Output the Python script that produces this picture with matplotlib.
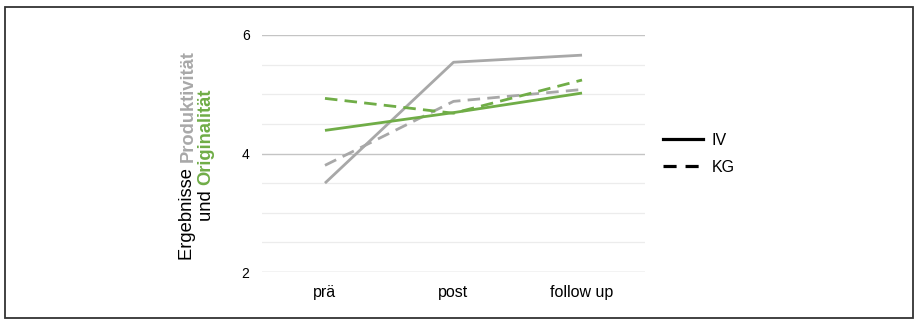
import matplotlib
matplotlib.use("Agg")
import matplotlib.pyplot as plt
from matplotlib.lines import Line2D
from matplotlib.patches import Rectangle
from matplotlib.ticker import MultipleLocator

plt.rcParams["font.family"] = ["Liberation Sans", "DejaVu Sans"]

phases = ["prä", "post", "follow up"]
prod_iv = [3.50, 5.54, 5.66]
prod_kg = [3.80, 4.88, 5.08]
orig_iv = [4.39, 4.69, 5.02]
orig_kg = [4.93, 4.68, 5.24]

GRAY = "#a8a8a8"
GREEN = "#70ad47"
DASH = (4.5, 2.6)

W, H = 922, 325
fig = plt.figure(figsize=(W / 100, H / 100), dpi=100)
ax = fig.add_axes([262 / W, 1 - 272 / H, (645 - 262) / W, (272 - 35) / H])

x = range(len(phases))
ax.plot(x, prod_iv, color=GRAY, lw=2.0, solid_capstyle="butt")
ax.plot(x, prod_kg, color=GRAY, lw=2.0, dashes=DASH)
ax.plot(x, orig_iv, color=GREEN, lw=2.0, solid_capstyle="butt")
ax.plot(x, orig_kg, color=GREEN, lw=2.0, dashes=DASH)

ax.set_xlim(-0.49, 2.49)
ax.set_ylim(2, 6)
ax.set_xticks(list(x))
ax.set_xticklabels(phases, fontsize=11.5)
ax.yaxis.set_major_locator(MultipleLocator(2))
ax.yaxis.set_minor_locator(MultipleLocator(0.5))
ax.grid(True, which="major", axis="y", color="#c4c4c4", lw=1.0)
ax.grid(True, which="minor", axis="y", color="#ececec", lw=0.9)
ax.set_axisbelow(True)
ax.tick_params(axis="y", which="both", length=0, pad=9, labelsize=10)
ax.tick_params(axis="x", length=0, pad=9)
for s in ax.spines.values():
    s.set_visible(False)

# two-line rotated y label with coloured words
fig.canvas.draw()
renderer = fig.canvas.get_renderer()


def label_line(xpix, parts, center_y):
    texts = []
    for txt, col, weight in parts:
        t = fig.text(0, 0, txt, color=col, fontsize=13.2, fontweight=weight,
                     rotation=90, rotation_mode="anchor", ha="left", va="center")
        texts.append(t)
    heights = [t.get_window_extent(renderer).height for t in texts]
    y = H - center_y - sum(heights) / 2
    for t, h in zip(texts, heights):
        t.set_position((xpix / W, y / H))
        y += h


label_line(188, [("Ergebnisse ", "#000000", "normal"),
                 ("Produktivität", GRAY, "bold")], 155)
label_line(206, [("und ", "#000000", "normal"),
                 ("Originalität", GREEN, "bold")], 155)

handles = [Line2D([], [], color="black", lw=2.3),
           Line2D([], [], color="black", lw=2.3, dashes=(4.1, 2.8))]
fig.legend(handles, ["IV", "KG"], loc="center left",
           bbox_to_anchor=(649 / W, 1 - 154 / H), frameon=False,
           fontsize=11.5, handlelength=2.5, handletextpad=0.5,
           labelspacing=0.75)

fig.add_artist(Rectangle((5 / W, 7 / H), 908 / W, 311 / H, transform=fig.transFigure,
                         fill=False, edgecolor="#333333", lw=1.3))

fig.savefig("out.png", dpi=100)
